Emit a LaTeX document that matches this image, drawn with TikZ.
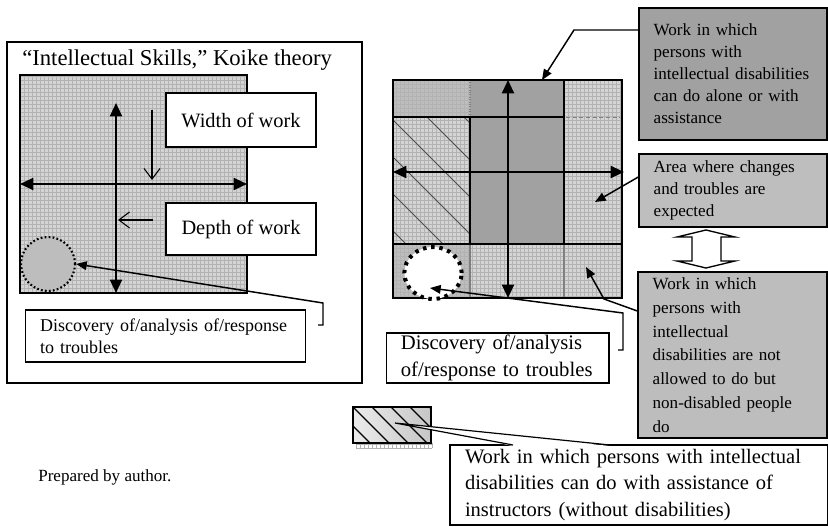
\documentclass[tikz,border=0pt]{standalone}
\usepackage{fontspec}
\setmainfont{Liberation Serif}
\usetikzlibrary{arrows.meta,shapes.geometric}
\definecolor{darkcell}{gray}{0.63}
\definecolor{midcell}{gray}{0.74}
\definecolor{lightcell}{gray}{0.83}
\definecolor{weave}{gray}{0.70}
\newcommand{\fsz}[2]{\fontsize{#1}{#2}\selectfont}
\tikzset{
  frame/.style={draw,line width=1.1pt},
  lbox/.style={draw,line width=1pt,fill=white,inner xsep=11pt,inner ysep=0pt,align=left},
  weavegrid/.style={draw=weave,line width=0.25pt,step=3pt},
  dbl/.style={line width=1.5pt,{Triangle[length=10pt,width=9pt]}-{Triangle[length=10pt,width=9pt]}},
  poke/.style={line width=1.1pt,-{Triangle[length=8pt,width=6.5pt]}},
  openhead/.style={line width=0.8pt,-{Straight Barb[length=8pt,width=12pt]}},
}
\begin{document}
\begin{tikzpicture}[x=0.75pt,y=-0.75pt]
\useasboundingbox (0,0) rectangle (828,527);

% left panel
\draw[frame] (7,42) rectangle (362,383);
\node[anchor=west,inner sep=0pt,font=\fsz{17}{20}] (title) at (22,60) {“Intellectual Skills,” Koike theory};
\fill[lightcell] (20,75) rectangle (247,293);
\draw[weavegrid] (20,293) grid (247,75);
\draw[line width=2.2pt] (20,75) rectangle (247,293);
\node[circle,draw,fill=midcell,line width=1.6pt,dash pattern=on 1.3pt off 1.7pt,minimum size=40.5pt,inner sep=0pt] (troubleL) at (48,264) {};
\coordinate (depthtop) at (116,103);
\coordinate (depthbot) at (116,293);
\coordinate (widthl) at (20,184);
\coordinate (widthr) at (247,184);
\draw[dbl] (depthtop) -- (depthbot);
\draw[dbl] (widthl) -- (widthr);
\node[lbox,align=center,minimum width=112.5pt,minimum height=40.5pt,font=\fsz{15.3}{18}] (widthbox) at (241,120) {Width of work};
\node[lbox,align=center,minimum width=112.5pt,minimum height=39pt,font=\fsz{15.3}{18}] (depthbox) at (241,229) {Depth of work};
\coordinate (wdown) at (152,110);
\coordinate (wdown2) at (152,180);
\coordinate (dleft) at (153,220);
\coordinate (dleft2) at (118,220);
\draw[openhead] (wdown) -- (wdown2);
\draw[openhead] (dleft) -- (dleft2);
\node[lbox,text width=188pt,minimum height=39pt,font=\fsz{13.5}{16.3}] (troublesL) at (165.5,336) {Discovery of/analysis of/response\\to troubles};
\coordinate (hookL) at (318,325);
\draw[poke] (hookL) -- (323,325) -- (323,303) -- (troubleL.east);

% right panel
\fill[lightcell] (393,80) rectangle (622,298);
\fill[midcell] (393,80) rectangle (470,117);
\fill[midcell] (393,244) rectangle (470,298);
\draw[weavegrid] (393,298) grid (622,80);
\fill[darkcell] (470,80) rectangle (564,244);
\begin{scope}
  \clip (393,117) rectangle (470,244);
  \foreach \k in {-4,...,4}
    \draw[line width=0.7pt,black!70] (393,83+37*\k) -- ++(140,140);
\end{scope}
\draw[gray,line width=0.8pt,densely dotted] (470,80) -- (470,117);
\draw[gray,line width=0.6pt,densely dashed] (566,117) -- (620,117);
\draw[gray,line width=0.8pt] (470,244) -- (470,298) (564,244) -- (564,298);
\draw[line width=2.2pt] (393,80) rectangle (622,298);
\draw[line width=2.2pt] (393,117) -- (564,117) (470,117) -- (470,244) (564,80) -- (564,244) (393,244) -- (622,244);
\node[ellipse,draw,fill=white,line width=3pt,dash pattern=on 2.6pt off 3.6pt,minimum width=43pt,minimum height=39pt,inner sep=0pt] (troubleR) at (433,273) {};
\coordinate (spantop) at (508,80);
\coordinate (spanbot) at (508,298);
\coordinate (spanl) at (393,172);
\coordinate (spanr) at (624,172);
\draw[dbl] (spantop) -- (spanbot);
\draw[dbl] (spanl) -- (spanr);

\node[lbox,fill=darkcell,text width=119pt,minimum height=99pt,font=\fsz{12.8}{16.5}] (alonebox) at (733,74) {Work in which\\persons with\\intellectual disabilities\\can do alone or with\\assistance};
\coordinate (alonehit) at (542,80);
\draw[poke] (alonebox.west |- 0,30) -- (574,30) -- (alonehit);

\node[lbox,fill=lightcell!90!black,text width=119pt,minimum height=54.75pt,font=\fsz{12.8}{16.5}] (changebox) at (733,190.5) {Area where changes\\and troubles are\\expected};
\coordinate (changehit) at (595,202);
\draw[poke] (changebox.west |- 0,177) -- (changehit);

\draw[fill=white,line width=1pt] (706,230) -- (735,237) -- (721,237) -- (721,261) -- (735,261) -- (706,268) -- (677,261) -- (692,261) -- (692,237) -- (677,237) -- cycle;

\node[lbox,fill=midcell,text width=119.75pt,minimum height=124.5pt,font=\fsz{12.8}{17.8}] (barredbox) at (732.5,355) {Work in which\\persons with\\intellectual\\disabilities are not\\allowed to do but\\non-disabled people\\do};
\coordinate (barredhit) at (586,267);
\draw[poke] (barredbox.west |- 0,311) -- (604,299) -- (barredhit);

\node[lbox,text width=145pt,minimum height=37.5pt,font=\fsz{15.5}{20}] (troublesR) at (497.5,358) {Discovery of/analysis\\of/response to troubles};
\coordinate (hookR) at (618,350);
\draw[poke] (hookR) -- (623,350) -- (623,313) -- (430,288);

% legend
\draw[weavegrid] (356,448) grid (432,443);
\shade[left color=gray!15,right color=gray!45] (353,407) rectangle (431,443);
\begin{scope}
  \clip (353,407) rectangle (431,443);
  \foreach \k in {-3,...,4}
    \draw[line width=0.8pt] (353+19*\k,407) -- ++(40,40);
\end{scope}
\draw[line width=2pt] (353,407) rectangle (431,443);
\node[lbox,text width=261pt,minimum width=283.5pt,minimum height=60pt,font=\fsz{15.4}{20}] (assistbox) at (639,485) {Work in which persons with intellectual\\disabilities can do with assistance of\\instructors (without disabilities)};
\coordinate (assisttip) at (395,423);
\fill[white] (assisttip) -- (513,446) -- (610,446) -- cycle;
\draw[line width=0.9pt] (513,445) -- (assisttip) -- (610,445);

\node[anchor=west,inner sep=0pt,font=\fsz{12.8}{15}] (note) at (38,477) {Prepared by author.};
\end{tikzpicture}
\end{document}
